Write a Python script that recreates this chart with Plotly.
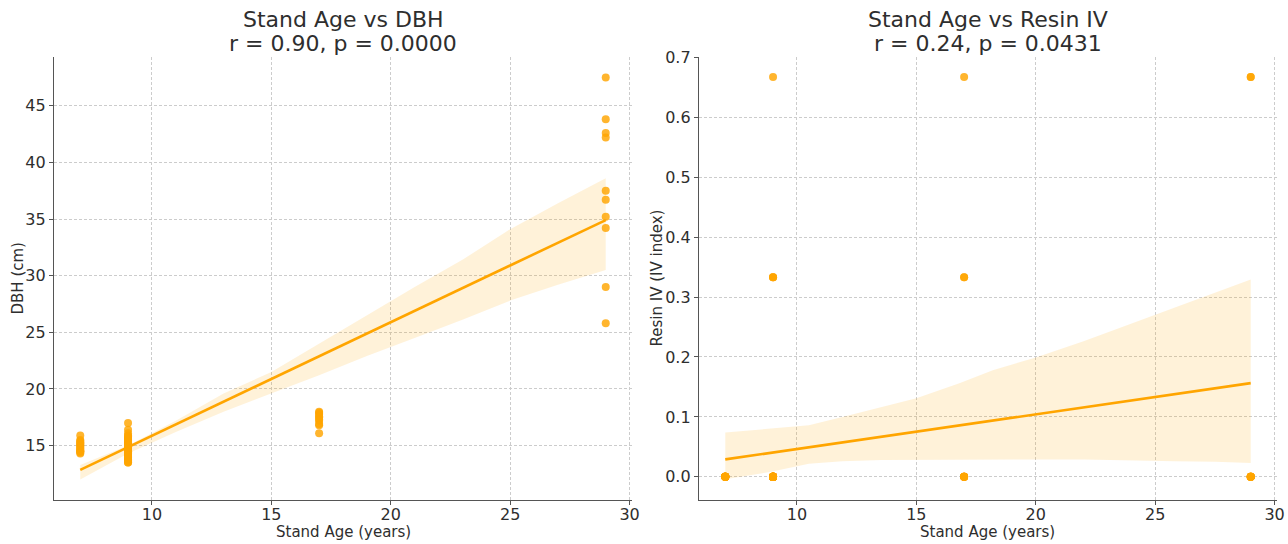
import numpy as np
import plotly.graph_objects as go

# ---------------- data ----------------
age_7 = [15.9, 15.5, 15.3, 15.2, 15.1, 15.0, 14.9, 14.8, 14.7, 14.6, 14.5, 14.5, 14.4, 14.3, 15.4]
age_9 = [17.0, 16.4, 16.1, 15.9, 15.8, 15.7, 15.6, 15.5, 15.5, 15.4, 15.3, 15.2, 15.2, 15.1, 15.0, 15.0,
         14.9, 14.8, 14.8, 14.7, 14.6, 14.5, 14.5, 14.4, 14.3, 14.2, 14.1, 14.0, 14.0, 13.9, 13.8, 13.7,
         13.6, 13.5, 13.5, 15.0]
age_17 = [18.0, 17.9, 17.8, 17.6, 17.5, 17.3, 17.2, 16.9, 16.8, 16.1]
age_29 = [47.5, 43.8, 42.6, 42.2, 37.5, 36.7, 35.2, 34.2, 29.0, 25.8]

resin_7 = [0.0] * 15
resin_9 = [0.333] * 3 + [0.667] * 1 + [0.0] * 32
resin_17 = [0.333] * 2 + [0.667] * 1 + [0.0] * 7
resin_29 = [0.667] * 2 + [0.0] * 8

stand_age = [7] * len(age_7) + [9] * len(age_9) + [17] * len(age_17) + [29] * len(age_29)
dbh = age_7 + age_9 + age_17 + age_29
resin = resin_7 + resin_9 + resin_17 + resin_29

# bootstrap confidence bands
ci_x_dbh = [7, 9, 11, 13, 15, 17, 19, 21, 23, 25, 27, 29]
ci_hi_dbh = [13.3, 15.0, 17.2, 19.6, 21.5, 24.0, 26.5, 29.0, 31.4, 34.1, 36.4, 38.6]
ci_lo_dbh = [12.0, 14.3, 16.2, 18.0, 19.6, 21.2, 22.9, 24.5, 26.1, 27.8, 29.2, 30.5]

ci_x_res = [7, 8.87, 10.5, 11.9, 13.56, 15, 16.8, 18.2, 20, 22, 23.9, 25.8, 27.5, 29]
ci_hi_res = [0.074, 0.080, 0.086, 0.100, 0.116, 0.131, 0.156, 0.178, 0.199, 0.226, 0.254, 0.282, 0.307, 0.329]
ci_lo_res = [-0.004, 0.008, 0.022, 0.026, 0.028, 0.029, 0.029, 0.029, 0.029, 0.029, 0.028, 0.026, 0.025, 0.023]

title_lines = [["Stand Age vs DBH", "r = 0.90, p = 0.0000"],
               ["Stand Age vs Resin IV", "r = 0.24, p = 0.0431"]]
x_label = "Stand Age (years)"
y_labels = ["DBH (cm)", "Resin IV (IV index)"]
x_ticks = [10, 15, 20, 25, 30]
y_ticks_dbh = [15, 20, 25, 30, 35, 40, 45]
y_ticks_res = [0.0, 0.1, 0.2, 0.3, 0.4, 0.5, 0.6, 0.7]

# ---------------- style ----------------
ORANGE = "#FFA500"
PT = "rgba(255,165,0,0.82)"
BAND = "rgba(255,165,0,0.15)"
TXT = "#2e2e2e"
FONT = "DejaVu Sans"
W, H = 1288, 544

fig = go.Figure()

panels = [
    (dbh, ci_x_dbh, ci_hi_dbh, ci_lo_dbh, "x", "y"),
    (resin, ci_x_res, ci_hi_res, ci_lo_res, "x2", "y2"),
]
xs = np.array(stand_age, dtype=float)
for yvals, cx, chi, clo, xa, ya in panels:
    yv = np.array(yvals, dtype=float)
    fig.add_trace(go.Scatter(x=xs, y=yv, mode="markers", xaxis=xa, yaxis=ya,
                             marker=dict(color=PT, size=8, line=dict(width=0)),
                             showlegend=False, hoverinfo="x+y"))
    fig.add_trace(go.Scatter(x=list(cx) + list(cx)[::-1], y=list(chi) + list(clo)[::-1],
                             mode="lines", fill="toself", fillcolor=BAND, line=dict(width=0),
                             xaxis=xa, yaxis=ya, showlegend=False, hoverinfo="skip"))
    slope, intercept = np.polyfit(xs, yv, 1)
    lx = np.array([xs.min(), xs.max()])
    fig.add_trace(go.Scatter(x=lx, y=slope * lx + intercept, mode="lines",
                             line=dict(color=ORANGE, width=2.6), xaxis=xa, yaxis=ya,
                             showlegend=False, hoverinfo="skip"))

y_dom = [1 - 500 / H, 1 - 57 / H]
x_doms = [[54 / W, 632 / W], [699 / W, 1277 / W]]

axis_common = dict(
    showline=True, linecolor="#555555", linewidth=1.3, mirror=False,
    showgrid=True, gridcolor="#cccccc", griddash="3px,2px", gridwidth=0.8,
    zeroline=False, ticks="outside", ticklen=4, tickcolor="#555555", tickwidth=1,
    tickfont=dict(family=FONT, size=16, color=TXT), automargin=False,
)
x_extra = dict(ticklabelstandoff=-4)

fig.update_layout(
    width=W, height=H,
    margin=dict(l=0, r=0, t=0, b=0, pad=0),
    paper_bgcolor="white", plot_bgcolor="white",
    font=dict(family=FONT, color=TXT),
    xaxis=dict(domain=x_doms[0], range=[5.9, 30.1], tickvals=x_ticks, anchor="y", **axis_common, **x_extra),
    yaxis=dict(domain=y_dom, range=[10.2, 49.3], tickvals=y_ticks_dbh, anchor="x", **axis_common),
    xaxis2=dict(domain=x_doms[1], range=[5.9, 30.1], tickvals=x_ticks, anchor="y2", **axis_common, **x_extra),
    yaxis2=dict(domain=y_dom, range=[-0.0386, 0.7003], tickvals=y_ticks_res, anchor="x2",
                tickformat=".1f", **axis_common),
)

for i, lines in enumerate(title_lines):
    cx = (x_doms[i][0] + x_doms[i][1]) / 2
    for text, ypix in zip(lines, [20, 43]):
        fig.add_annotation(text=text, x=cx, y=1 - ypix / H, xref="paper", yref="paper",
                           xanchor="center", yanchor="middle", showarrow=False,
                           font=dict(family=FONT, size=22, color=TXT))
    # x-axis label
    fig.add_annotation(text=x_label, x=cx, y=1 - 532 / H, xref="paper", yref="paper",
                       xanchor="center", yanchor="middle", showarrow=False,
                       font=dict(family=FONT, size=15, color=TXT))

for text, xpix in zip(y_labels, [17, 656]):
    fig.add_annotation(text=text, x=xpix / W, y=1 - 278.5 / H, xref="paper", yref="paper",
                       xanchor="center", yanchor="middle", textangle=-90, showarrow=False,
                       font=dict(family=FONT, size=15, color=TXT))

fig.write_html("out.html", config={"displayModeBar": False},
               post_script="document.body.style.margin='0px';document.body.style.overflow='hidden';")
